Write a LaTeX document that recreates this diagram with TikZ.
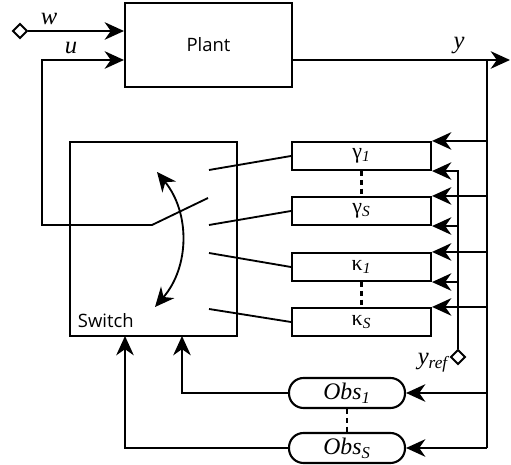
\documentclass[tikz,border=0pt]{standalone}
\usepackage{fontspec}
\usepackage{tikz}
\usetikzlibrary{arrows.meta,shapes.geometric}
\newfontfamily\boxfont{Open Sans}
\newfontfamily\symfont{Liberation Serif}

\tikzset{
  blk/.style={draw, line width=1.2pt, minimum width=2.78cm, minimum height=0.56cm, inner sep=0pt,
              font=\symfont\fontsize{12.5}{13}\selectfont},
  obsblk/.style={draw, line width=1.2pt, rounded corners=0.29cm, minimum width=2.32cm, minimum height=0.6cm,
              inner sep=0pt, font=\symfont\itshape\fontsize{13.5}{14}\selectfont},
  port/.style={diamond, draw, fill=white, line width=1.1pt, minimum size=0.3cm, inner sep=0pt},
  lbl/.style={font=\symfont\itshape\fontsize{14}{15}\selectfont, inner sep=0pt},
  dotlink/.style={line width=1.4pt, dash pattern=on 3pt off 2pt},
}

\begin{document}
\begin{tikzpicture}[x=0.02cm, y=-0.02cm, >={Stealth[length=11pt,width=10pt,inset=3.5pt]}, line width=1.05pt]
  \useasboundingbox (0,0) rectangle (511,465);
  % plant and switch
  \node[draw, line width=1.2pt, minimum width=3.34cm, minimum height=1.68cm,
        font=\boxfont\fontsize{10.5}{12}\selectfont] (plant) at (208.5,45) {Plant};
  \node[draw, line width=1.2pt, minimum width=3.34cm, minimum height=3.88cm] (switch) at (153.5,239) {};
  \node[anchor=south west, inner sep=0pt, font=\boxfont\fontsize{10.5}{12}\selectfont]
        (swlab) at (77,329) {Switch};
  % gain blocks
  \node[blk] (gam1) at (361.5,156) {γ\textsubscript{\itshape 1}};
  \node[blk] (gamS) at (361.5,211) {γ\textsubscript{\itshape S}};
  \node[blk] (kap1) at (361.5,267) {κ\textsubscript{\itshape 1}};
  \node[blk] (kapS) at (361.5,322) {κ\textsubscript{\itshape S}};
  % observers
  \node[obsblk] (obs1) at (347,393) {Obs\textsubscript{1}};
  \node[obsblk] (obsS) at (347,448) {Obs\textsubscript{S}};
  % outside ports
  \node[port] (win) at (20,31) {};
  \node[port] (yref) at (458,357) {};
  \node[lbl] (wlab) at (49,19) {w};
  \node[lbl] (ulab) at (71,48) {u};
  \node[lbl] (ylab) at (459,46) {y};
  \node[lbl, anchor=north east] (yreflab) at (449,352) {y\textsubscript{ref}};

  \coordinate (ufb) at (42,60);
  \coordinate (pole) at (152,225);
  \coordinate (throw) at (208,198);
  \coordinate (yout) at (510,60);
  \coordinate (ybus) at (487,60);
  \coordinate (ybot) at (487,448);
  \coordinate (c1) at (209,170);
  \coordinate (c2) at (209,225);
  \coordinate (c3) at (209,253);
  \coordinate (c4) at (209,309);
  \coordinate (arcA) at (157,172);
  \coordinate (arcB) at (155,307);
  \coordinate (sin1) at (182,336);
  \coordinate (sinS) at (125,336);

  % plant inputs and output
  \draw[->] (win) -- (win -| plant.west);
  \draw[->] (throw) -- (pole) -| (ufb) -- (ufb -| plant.west);
  \draw[->] (plant.east |- yout) -- (yout);
  \draw (ybus) -- (ybot);
  % switch contacts
  \draw (c1) -- (gam1.west);
  \draw (c2) -- (gamS.west);
  \draw (c3) -- (kap1.west);
  \draw (c4) -- (kapS.west);
  \draw[<->] (arcA) to[bend left=40] (arcB);
  % measurements into gains
  \draw[->] (ybus |- gam1.north east) -- (gam1.north east);
  \draw[->] (ybus |- gamS.north east) -- (gamS.north east);
  \draw[->] (ybus |- kap1.north east) -- (kap1.north east);
  \draw[->] (ybus |- kapS.north east) -- (kapS.north east);
  \draw[->] (yref) |- (gam1.south east);
  \draw[->] (yref |- gamS.south east) -- (gamS.south east);
  \draw[->] (yref |- kap1.south east) -- (kap1.south east);
  % observers
  \draw[->] (ybus |- obs1.east) -- (obs1.east);
  \draw[->] (ybot) -- (obsS.east);
  \draw[->] (obs1.west) -| (sin1);
  \draw[->] (obsS.west) -| (sinS);
  % dotted links
  \draw[dotlink] (gam1.south) -- (gamS.north);
  \draw[dotlink] (kap1.south) -- (kapS.north);
  \draw[dotlink] (obs1.south) -- (obsS.north);
\end{tikzpicture}
\end{document}
